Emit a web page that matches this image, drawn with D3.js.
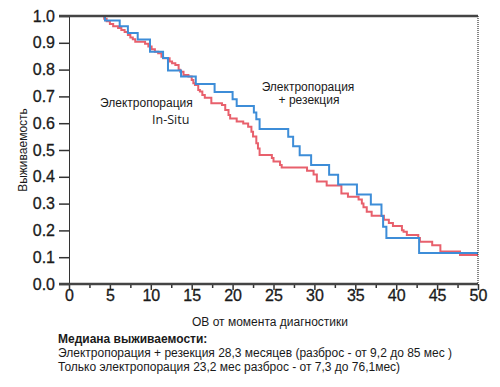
<!DOCTYPE html>
<html>
<head>
<meta charset="utf-8">
<script src="https://cdn.jsdelivr.net/npm/d3@7"></script>
<style>
  body { margin: 0; background: #fff; }
  svg text { font-family: "Liberation Sans", Arial, Helvetica, sans-serif; fill: #1a1a1a; }
</style>
</head>
<body>
<script>
"use strict"

// Electroporation + resection (blue)
var blueTime = [4.2, 4.4, 6.2, 7.2, 8.4, 9.9, 11.5, 12.1, 13.7, 15.5, 17.8, 20.0, 20.5, 22.6, 22.9,
                23.3, 26.8, 27.4, 28.2, 29.6, 31.8, 32.9, 35.2, 36.9, 38.2, 38.4, 38.8, 42.8, 50];
var blueSurv = [1.0, 0.983, 0.962, 0.937, 0.912, 0.867, 0.843, 0.797, 0.774, 0.746, 0.716, 0.689, 0.664, 0.640, 0.615,
                0.578, 0.549, 0.514, 0.480, 0.444, 0.408, 0.371, 0.334, 0.297, 0.254, 0.214, 0.172, 0.116, 0.116];

// Electroporation in-situ (red)
var redTime = [4.1, 4.3, 4.6, 5.0, 5.4, 6.0, 6.4, 6.8, 7.2, 7.5, 7.8, 8.1, 9.3, 9.7, 10.1,
               10.5, 10.9, 11.3, 11.5, 12.3, 12.6, 13.0, 13.4, 13.6, 14.0, 14.6, 15.0, 15.2, 15.4, 15.8,
               16.0, 16.3, 16.6, 17.4, 18.7, 19.1, 19.5, 19.7, 20.5, 21.3, 21.9, 22.3, 22.5, 22.9, 23.1,
               23.3, 24.8, 25.0, 25.8, 26.0, 29.1, 29.9, 30.3, 31.5, 33.3, 34.1, 35.4, 35.8, 36.0, 36.4,
               37.0, 38.5, 39.1, 39.6, 40.7, 40.9, 41.3, 42.7, 42.9, 44.4, 45.4, 47.8, 50];
var redSurv = [1.0, 0.99, 0.98, 0.97, 0.962, 0.955, 0.948, 0.94, 0.929, 0.92, 0.913, 0.904, 0.896, 0.886, 0.876,
               0.867, 0.861, 0.848, 0.842, 0.830, 0.824, 0.817, 0.799, 0.792, 0.780, 0.774, 0.761, 0.749, 0.743, 0.724,
               0.718, 0.705, 0.695, 0.674, 0.668, 0.649, 0.631, 0.618, 0.606, 0.599, 0.587, 0.568, 0.550, 0.525, 0.506,
               0.481, 0.470, 0.457, 0.444, 0.435, 0.423, 0.409, 0.382, 0.368, 0.338, 0.326, 0.315, 0.300, 0.286, 0.270,
               0.255, 0.240, 0.228, 0.216, 0.201, 0.195, 0.183, 0.172, 0.158, 0.145, 0.121, 0.108, 0.108];

var xTicks = [0, 5, 10, 15, 20, 25, 30, 35, 40, 45, 50];
var xMinorTicks = [2.5, 7.5, 12.5, 17.5, 22.5, 27.5, 32.5, 37.5, 42.5, 47.5];
var yTicks = [0, 0.1, 0.2, 0.3, 0.4, 0.5, 0.6, 0.7, 0.8, 0.9, 1.0];

var medianLines = [
  "Электропорация + резекция 28,3 месяцев (разброс - от 9,2 до 85 мес )",
  "Только электропорация 23,2 мес разброс - от 7,3 до 76,1мес)"
];

var svg = d3.select("body").append("svg")
            .attr("width", 500)
            .attr("height", 387);

var x = d3.scaleLinear().domain([0, 50]).range([69, 478]);
var y = d3.scaleLinear().domain([0, 1]).range([284, 16]);

// y axis
var yAxis = svg.append("g")
               .attr("transform", "translate(69,0)")
               .call(d3.axisLeft(y).tickValues(yTicks).tickFormat(d3.format(".1f"))
                       .tickSize(10).tickSizeOuter(0).tickPadding(4));
yAxis.select(".domain").attr("stroke", "#333").attr("stroke-width", 1);
yAxis.selectAll(".tick line").attr("stroke", "#333").attr("stroke-width", 1.5);
yAxis.selectAll("text").attr("font-size", 16).attr("fill", "#1a1a1a")
     .attr("stroke", "#1a1a1a").attr("stroke-width", 0.3);

// x axis, major + minor
var xAxis = svg.append("g")
               .attr("transform", "translate(0,284)")
               .call(d3.axisBottom(x).tickValues(xTicks).tickSize(6).tickSizeOuter(0).tickPadding(0));
xAxis.select(".domain").remove();
xAxis.selectAll(".tick line").attr("stroke", "#333").attr("stroke-width", 1.5);
xAxis.selectAll("text").attr("font-size", 16).attr("fill", "#1a1a1a")
     .attr("stroke", "#1a1a1a").attr("stroke-width", 0.3);

var xMinor = svg.append("g")
                .attr("transform", "translate(0,284)")
                .call(d3.axisBottom(x).tickValues(xMinorTicks).tickSize(4).tickFormat(""));
xMinor.select(".domain").remove();
xMinor.selectAll(".tick line").attr("stroke", "#333").attr("stroke-width", 1.5);

// survival curves
var line = d3.line()
             .x(function(d) { return x(d[0]); })
             .y(function(d) { return y(d[1]); })
             .curve(d3.curveStepAfter);

svg.append("path")
   .datum(d3.zip(redTime, redSurv))
   .attr("d", line)
   .attr("fill", "none")
   .attr("stroke", "#e8606c")
   .attr("stroke-width", 2);

svg.append("path")
   .datum(d3.zip(blueTime, blueSurv))
   .attr("d", line)
   .attr("fill", "none")
   .attr("stroke", "#3d8dd8")
   .attr("stroke-width", 2);

// frame
svg.append("line").attr("x1", 59).attr("x2", 478).attr("y1", y(1)).attr("y2", y(1))
   .attr("stroke", "#444").attr("stroke-width", 2.5);
svg.append("line").attr("x1", 59).attr("x2", 478).attr("y1", y(0)).attr("y2", y(0))
   .attr("stroke", "#444").attr("stroke-width", 2.5);
svg.append("line").attr("x1", 478).attr("x2", 478).attr("y1", y(1)).attr("y2", y(0))
   .attr("stroke", "#333").attr("stroke-width", 1.2).attr("stroke-dasharray", "1,1");

// curve labels
svg.append("text").attr("x", 100).attr("y", 107).attr("font-size", 12).text("Электропорация");
svg.append("text").attr("x", 152).attr("y", 124).attr("font-size", 12.5)
   .style("font-family", "'Open Sans', sans-serif").text("In-Situ");
svg.append("text").attr("x", 308).attr("y", 91).attr("font-size", 12)
   .attr("text-anchor", "middle").text("Электропорация");
svg.append("text").attr("x", 309).attr("y", 104).attr("font-size", 12)
   .attr("text-anchor", "middle").text("+ резекция");

// axis titles
svg.append("text").attr("x", 270).attr("y", 326).attr("font-size", 12)
   .attr("text-anchor", "middle").text("ОВ от момента диагностики");
svg.append("text").attr("transform", "translate(26.5,150) rotate(-90)")
   .attr("font-size", 12).attr("text-anchor", "middle").text("Выживаемость");

// median notes
svg.append("text").attr("x", 58).attr("y", 343).attr("font-size", 12)
   .attr("font-weight", "bold").text("Медиана выживаемости:");
svg.selectAll(".median").data(medianLines).enter().append("text")
   .attr("class", "median")
   .attr("x", 58)
   .attr("y", function(d, i) { return 357 + i * 14; })
   .attr("font-size", 12)
   .text(function(d) { return d; });
</script>
</body>
</html>
